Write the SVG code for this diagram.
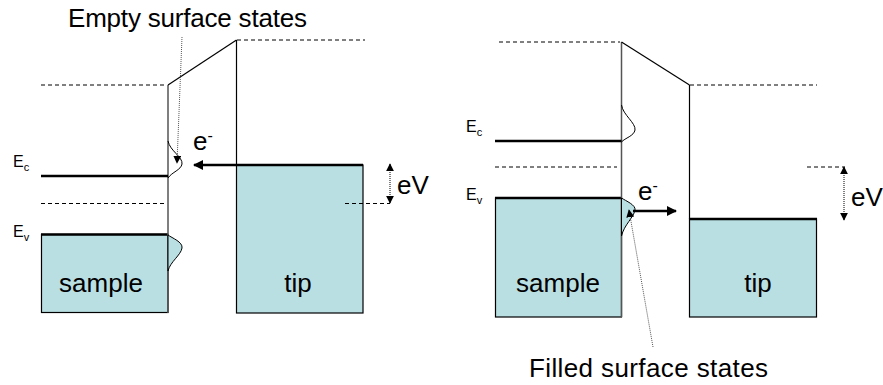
<svg xmlns="http://www.w3.org/2000/svg" width="883" height="385" viewBox="0 0 883 385">
<defs>
<style>
text{font-family:"Liberation Sans",Arial,sans-serif;fill:#000}
.big{font-size:26px}
.lab{font-size:16px}
.sub{font-size:11px}
.box{fill:#b9dfe3;stroke:#000;stroke-width:1.2}
.band{stroke:#000;stroke-width:2.5;fill:none}
.dash{stroke:#000;stroke-width:1;stroke-dasharray:4 3;fill:none}
.surf{stroke:#555;stroke-width:1.5;fill:none}
.thin{stroke:#000;stroke-width:1.2;fill:none}
.state{stroke:#000;stroke-width:1;fill:none}
.fstate{stroke:#000;stroke-width:1;fill:#b9dfe3}
.lead{stroke:#555;stroke-width:1;stroke-dasharray:1 1;fill:none}
.ev{stroke:#000;stroke-width:1;stroke-dasharray:1 1;fill:none}
.flow{stroke:#000;stroke-width:2.5;fill:none}
</style>
<marker id="ah" viewBox="0 0 10 10" refX="9" refY="5" markerWidth="5" markerHeight="4" orient="auto" markerUnits="strokeWidth">
<path d="M0,0 L10,5 L0,10 Z" fill="#000"/>
</marker>
<marker id="ahs" viewBox="0 0 10 10" refX="9" refY="5" markerWidth="8" markerHeight="8" orient="auto" markerUnits="strokeWidth">
<path d="M0,0 L10,5 L0,10 Z" fill="#000"/>
</marker>
<marker id="ahe" viewBox="0 0 10 10" refX="9" refY="5" markerWidth="8" markerHeight="8" orient="auto-start-reverse" markerUnits="strokeWidth">
<path d="M0,0 L10,5 L0,10 Z" fill="#000"/>
</marker>
</defs>

<!-- LEFT DIAGRAM -->
<g id="left-sample">
<rect class="box" x="41.5" y="234.5" width="126.5" height="78"/>
<line class="band" x1="41" y1="234.5" x2="168" y2="234.5"/>
<text class="big" x="101" y="292" text-anchor="middle">sample</text>
</g>
<g id="left-sample-bands">
<line class="dash" x1="41" y1="85" x2="167" y2="85"/>
<line class="surf" x1="168" y1="85" x2="168" y2="313"/>
<line class="band" x1="41" y1="176" x2="168" y2="176"/>
<line class="dash" x1="41" y1="203.5" x2="167" y2="203.5"/>
<text class="lab" x="13" y="167">E<tspan class="sub" dy="4">c</tspan></text>
<text class="lab" x="13" y="237">E<tspan class="sub" dy="4">v</tspan></text>
</g>
<g id="left-surface-states">
<path class="state" d="M168,141 C170,151 183,157 182,164 C181,170 172,172 168,178"/>
<path class="fstate" d="M168,235 C172,238 183,242 182,248 C181,255 170,262 168,271 Z"/>
</g>
<g id="left-barrier">
<line class="thin" x1="168" y1="85" x2="236.5" y2="40"/>
<line class="thin" x1="236.5" y1="40" x2="236.5" y2="165"/>
<line class="dash" x1="237" y1="40" x2="365" y2="40"/>
</g>
<g id="left-tip">
<rect class="box" x="236.5" y="165" width="126.5" height="148"/>
<line class="band" x1="236" y1="165" x2="363" y2="165"/>
<line class="dash" x1="345" y1="203.5" x2="390" y2="203.5"/>
<text class="big" x="298" y="292" text-anchor="middle">tip</text>
</g>
<g id="left-labels">
<text class="big" x="68" y="27" textLength="239">Empty surface states</text>
<text class="big" x="193" y="150">e<tspan font-size="16" dy="-9">-</tspan></text>
<text class="big" x="397" y="194">eV</text>
</g>

<!-- RIGHT DIAGRAM -->
<g id="right-sample">
<rect class="box" x="495.5" y="198" width="126" height="119"/>
<line class="band" x1="495" y1="198" x2="621.5" y2="198"/>
<text class="big" x="558" y="292" text-anchor="middle">sample</text>
</g>
<g id="right-sample-bands">
<line class="dash" x1="499" y1="42" x2="620" y2="42"/>
<line class="surf" x1="621.5" y1="42" x2="621.5" y2="317"/>
<line class="band" x1="495" y1="141" x2="621.5" y2="141"/>
<line class="dash" x1="495" y1="167" x2="617" y2="167"/>
<text class="lab" x="466" y="132">E<tspan class="sub" dy="4">c</tspan></text>
<text class="lab" x="466" y="200">E<tspan class="sub" dy="4">v</tspan></text>
</g>
<g id="right-surface-states">
<path class="state" d="M621.5,105 C623,115 636,123 635,130 C634,136 625,138 621.5,142"/>
<path class="fstate" d="M621.5,198 C626,201 636,205 635,210 C634,217 624,225 621.5,236 Z"/>
</g>
<g id="right-barrier">
<line class="thin" x1="621.5" y1="42" x2="689.5" y2="85"/>
<line class="thin" x1="689.5" y1="85" x2="689.5" y2="219"/>
<line class="dash" x1="690" y1="85" x2="817" y2="85"/>
</g>
<g id="right-tip">
<rect class="box" x="689.5" y="219" width="127" height="98"/>
<line class="band" x1="689" y1="219" x2="817" y2="219"/>
<line class="dash" x1="807" y1="167" x2="845" y2="167"/>
<text class="big" x="758" y="292" text-anchor="middle">tip</text>
</g>
<g id="right-labels">
<text class="big" x="638" y="200">e<tspan font-size="16" dy="-9">-</tspan></text>
<text class="big" x="851" y="206">eV</text>
<text class="big" x="529" y="377" textLength="239">Filled surface states</text>
</g>

<!-- CONNECTORS -->
<g id="connectors">
<line class="flow" x1="237" y1="165" x2="194" y2="165" marker-end="url(#ah)"/>
<line class="flow" x1="633" y1="211" x2="676" y2="211" marker-end="url(#ah)"/>
<line class="lead" x1="182" y1="37" x2="177" y2="163" marker-end="url(#ahs)"/>
<line class="lead" x1="653" y1="347" x2="629" y2="210" marker-end="url(#ahs)"/>
<line class="ev" x1="390" y1="164" x2="390" y2="203" marker-start="url(#ahe)" marker-end="url(#ahe)"/>
<line class="ev" x1="844" y1="167" x2="844" y2="220" marker-start="url(#ahe)" marker-end="url(#ahe)"/>
</g>
</svg>
